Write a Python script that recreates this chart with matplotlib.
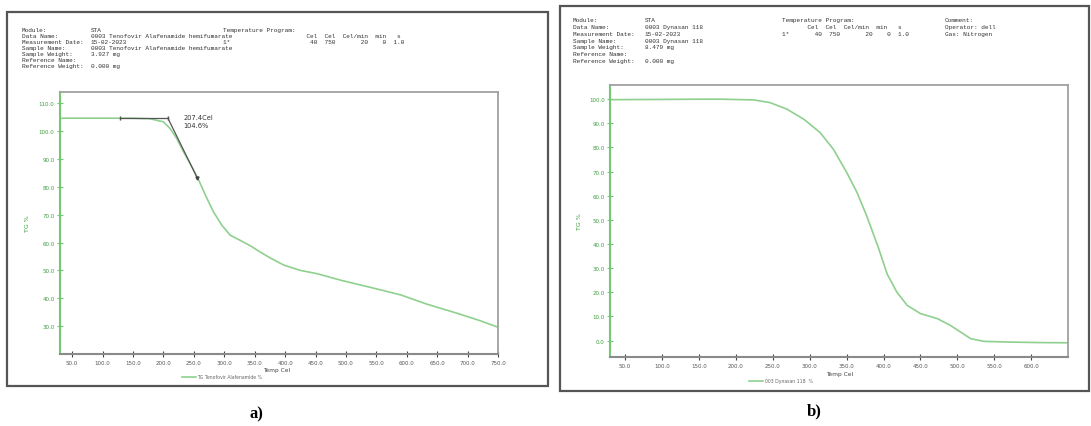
import matplotlib
matplotlib.use("Agg")
import matplotlib.pyplot as plt
from matplotlib.patches import Rectangle

# ---------------- data ----------------
temp_a = [30, 100, 150, 178, 200, 211, 222, 233, 247, 258, 269, 282, 296, 310,
          326, 343, 359, 376, 398, 425, 453, 491, 546, 590, 633, 683, 720, 750]
tg_a = [104.6, 104.6, 104.6, 104.4, 103.3, 100.9, 97.3, 92.6, 87.1, 82.4, 77.0,
        71.1, 66.2, 62.6, 60.8, 58.8, 56.6, 54.4, 51.9, 50.0, 48.8, 46.5, 43.6,
        41.2, 37.9, 34.6, 32.0, 29.6]

temp_b = [30, 100, 150, 179, 224, 246, 269, 292, 314, 332, 350, 364, 377, 393,
          405, 418, 432, 450, 473, 490, 504, 518, 536, 571, 610, 650]
tg_b = [99.8, 99.9, 100.0, 100.0, 99.7, 98.6, 95.9, 91.7, 86.2, 79.3, 69.7,
        61.4, 51.8, 38.5, 27.5, 20.1, 14.6, 11.2, 9.1, 6.4, 3.6, 0.8, -0.3,
        -0.6, -0.8, -0.9]

onset_baseline_T = [129.0, 207.4]
onset_baseline_v = [104.6, 104.6]
onset_tangent_T = [207.4, 256.0]
onset_tangent_v = [104.6, 83.0]
onset_label = "207.4Cel\n104.6%"

xticks_a = [50, 100, 150, 200, 250, 300, 350, 400, 450, 500, 550, 600, 650, 700, 750]
yticks_a = [30, 40, 50, 60, 70, 80, 90, 100, 110]
xticks_b = [50, 100, 150, 200, 250, 300, 350, 400, 450, 500, 550, 600]
yticks_b = [0, 10, 20, 30, 40, 50, 60, 70, 80, 90, 100]

legend_a = "TG Tenofovir Alafenamide %"
legend_b = "003 Dynasan 118  %"
xlabel = "Temp Cel"
ylabel = "TG %"

header_labels = ["Module:", "Data Name:", "Measurement Date:", "Sample Name:",
                 "Sample Weight:", "Reference Name:", "Reference Weight:"]
header_values_a = ["STA", "0003 Tenofovir Alafenamide hemifumarate", "15-02-2023",
                   "0003 Tenofovir Alafenamide hemifumarate", "3.927 mg", "", "0.000 mg"]
header_values_b = ["STA", "0003 Dynasan 118", "15-02-2023", "0003 Dynasan 118",
                   "8.479 mg", "", "0.000 mg"]
temp_prog_a = ["Temperature Program:",
               "                       Cel  Cel  Cel/min  min   s",
               "1*                      40  750       20    0  1.0"]
temp_prog_b = ["Temperature Program:",
               "       Cel  Cel  Cel/min  min   s",
               "1*       40  750       20    0  1.0"]
comment_b = ["Comment:", "Operator: dell", "Gas: Nitrogen"]

# ---------------- figure ----------------
W, H = 1091, 427
fig = plt.figure(figsize=(W / 100, H / 100), dpi=100)
fig.patch.set_facecolor("white")


def fx(x):
    return x / W


def fy(y):
    return 1 - y / H


LINE = "#8fd08f"
GREEN_SPINE = "#74c874"
GREEN_TXT = "#3c9c3c"
GREY = "#8a8a8a"
MONO = "Liberation Mono"

# panel frames
fig.add_artist(Rectangle((fx(7), fy(387)), fx(548) - fx(7), fy(12.5) - fy(387),
                         transform=fig.transFigure, fill=False,
                         edgecolor="#555555", linewidth=1.6))
fig.add_artist(Rectangle((fx(560), fy(392)), fx(1089) - fx(560), fy(7) - fy(392),
                         transform=fig.transFigure, fill=False,
                         edgecolor="#555555", linewidth=1.6))

# headers
for i, (lab, val) in enumerate(zip(header_labels, header_values_a)):
    y = 30.5 + 6.05 * i
    fig.text(fx(22), fy(y), lab, fontsize=4.4, family=MONO, color="#333333", va="center")
    fig.text(fx(91), fy(y), val, fontsize=4.4, family=MONO, color="#333333", va="center")
for i, t in enumerate(temp_prog_a):
    fig.text(fx(223), fy(30.5 + 6.05 * i), t, fontsize=4.4, family=MONO,
             color="#333333", va="center")

for i, (lab, val) in enumerate(zip(header_labels, header_values_b)):
    y = 20.7 + 6.8 * i
    fig.text(fx(573), fy(y), lab, fontsize=4.4, family=MONO, color="#333333", va="center")
    fig.text(fx(645), fy(y), val, fontsize=4.4, family=MONO, color="#333333", va="center")
for i, t in enumerate(temp_prog_b):
    fig.text(fx(782), fy(20.7 + 6.8 * i), t, fontsize=4.4, family=MONO,
             color="#333333", va="center")
for i, t in enumerate(comment_b):
    fig.text(fx(945), fy(20.7 + 6.8 * i), t, fontsize=4.4, family=MONO,
             color="#333333", va="center")


def style_axes(ax, xticks, yticks):
    ax.set_xticks(xticks)
    ax.set_xticklabels([f"{v:.1f}" for v in xticks])
    ax.set_yticks(yticks)
    ax.set_yticklabels([f"{v:.1f}" for v in yticks])
    ax.tick_params(axis="x", direction="inout", length=4, width=0.8, colors="#444444",
                   labelsize=4, pad=2, labelcolor="#555555")
    ax.tick_params(axis="y", direction="inout", length=4, width=0.8, colors=GREEN_SPINE,
                   labelsize=4, pad=2, labelcolor=GREEN_TXT)
    for s in ("top", "right"):
        ax.spines[s].set_color("#a0a0a0")
        ax.spines[s].set_linewidth(1.3)
    ax.spines["bottom"].set_color(GREY)
    ax.spines["bottom"].set_linewidth(1.5)
    ax.spines["left"].set_color(GREEN_SPINE)
    ax.spines["left"].set_linewidth(1.5)
    ax.set_xlabel(xlabel, fontsize=4.2, color="#444444")
    ax.set_ylabel(ylabel, fontsize=4.5, color=GREEN_TXT)


# ---- panel a ----
axa = fig.add_axes([fx(60), fy(355), fx(498) - fx(60), fy(93) - fy(355)])
axa.plot(temp_a, tg_a, color=LINE, linewidth=1.2, label=legend_a,
         solid_joinstyle="round")
axa.plot(onset_baseline_T, onset_baseline_v, color="#555555", linewidth=0.9,
         marker="|", markersize=3.5)
axa.plot(onset_tangent_T, onset_tangent_v, color="#555555", linewidth=0.9)
axa.plot([onset_tangent_T[-1]], [onset_tangent_v[-1]], color="#444444", marker="v",
         markersize=2.2)
axa.text(onset_tangent_T[0] + 25, onset_baseline_v[0] + 1.5, onset_label,
         fontsize=4.8, color="#333333", va="top", ha="left", linespacing=1.3)
axa.set_xlim(30, 750)
axa.set_ylim(20, 114)
style_axes(axa, xticks_a, yticks_a)
axa.xaxis.set_label_coords(0.495, -0.05)
axa.yaxis.set_label_coords(-0.068, 0.5)
axa.legend(loc="center", bbox_to_anchor=(fx(222), fy(378)), bbox_transform=fig.transFigure,
           frameon=False, fontsize=3.3, handlelength=3, labelcolor="#666666",
           handletextpad=0.3)

# ---- panel b ----
axb = fig.add_axes([fx(610.3), fy(358.3), fx(1068.2) - fx(610.3), fy(85.7) - fy(358.3)])
axb.plot(temp_b, tg_b, color=LINE, linewidth=1.2, label=legend_b,
         solid_joinstyle="round")
axb.set_xlim(30, 650)
axb.set_ylim(-6.9, 106)
style_axes(axb, xticks_b, yticks_b)
axb.xaxis.set_label_coords(0.5, -0.05)
axb.yaxis.set_label_coords(-0.062, 0.5)
axb.legend(loc="center", bbox_to_anchor=(fx(781), fy(382)), bbox_transform=fig.transFigure,
           frameon=False, fontsize=3.3, handlelength=3, labelcolor="#666666",
           handletextpad=0.3)

# captions
fig.text(fx(256), fy(414), "a)", fontsize=12, fontweight="bold",
         family="Liberation Serif", ha="center", va="center", color="black")
fig.text(fx(814), fy(411), "b)", fontsize=12, fontweight="bold",
         family="Liberation Serif", ha="center", va="center", color="black")

fig.savefig("out.png", dpi=100, facecolor="white")
